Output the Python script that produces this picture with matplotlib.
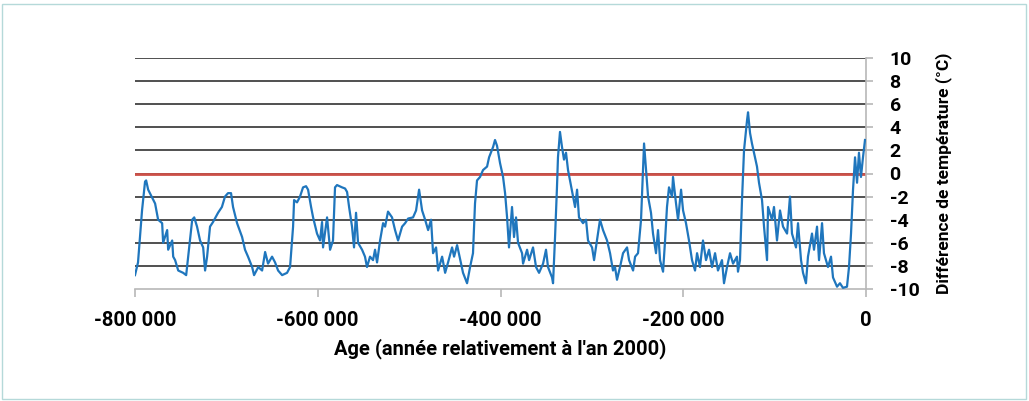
import numpy as np
import matplotlib
matplotlib.use("Agg")
import matplotlib.pyplot as plt
from matplotlib.ticker import FuncFormatter, MultipleLocator
from matplotlib.patches import Rectangle

# age en milliers d'années (relatif à 2000), température en °C
age_ka = [
	-800, -796.7, -792.3, -789, -787.8, -785.6, -781.2, -778, -774.7, -770.3,
	-769.2, -764.8, -763.7, -759.3, -758.2, -756.1, -752.7, -747.3, -744, -741.8,
	-737.4, -735.2, -732.1, -728.8, -725.4, -723.3, -721.1, -717.9, -714.6, -709.1,
	-704.9, -701.5, -698.2, -694.9, -692.7, -688.3, -682.8, -679.6, -676.3, -671.8,
	-669.7, -665.1, -660.9, -657.6, -654.4, -650, -646.7, -643.4, -639, -633.6,
	-630.3, -627, -625.9, -622.7, -619.4, -616.1, -612.8, -610.6, -607.3, -605.1,
	-600.8, -597.5, -595.3, -594.2, -589.8, -586.5, -583.3, -581.1, -578.9, -573.4,
	-570.1, -567.9, -565.7, -562.5, -560.3, -558.1, -555.9, -551.5, -548.3, -546.1,
	-542.8, -539.5, -537.3, -535.1, -531.8, -528.5, -526.3, -523.1, -518.7, -515.4,
	-512.1, -507.7, -504.4, -501.1, -495.7, -492.4, -489.1, -485.8, -482.5, -479.2,
	-476, -473.8, -470.5, -468.3, -463.9, -460.6, -457.4, -453, -450.8, -447.5,
	-443.2, -441, -436.6, -433.3, -430.1, -427.9, -425.7, -422.4, -419.1, -414.7,
	-412.5, -408.1, -406, -403.8, -400.5, -397.2, -395, -392.8, -390.7, -387.4,
	-385.2, -383, -380.8, -376.4, -375.3, -370.9, -368.7, -364.4, -361.1, -357.8,
	-353.4, -350.2, -348, -343.6, -342.5, -340.3, -338.2, -337.1, -334.9, -332.7,
	-330.5, -328.3, -326.1, -323.9, -320.6, -318.4, -316.2, -314.1, -309.7, -306.4,
	-304.2, -299.8, -297.6, -294.4, -291.1, -287.8, -283.4, -280.1, -276.9, -274.7,
	-272.5, -269.2, -265.9, -261.5, -259.3, -254.9, -252.7, -249.5, -246.2, -244,
	-242.9, -240.7, -238.5, -235.3, -233.1, -229.8, -227.6, -225.4, -222.1, -219.9,
	-217.8, -215.6, -212.3, -211.2, -207.9, -205.7, -202.4, -200.2, -197, -193.7,
	-190.4, -187.1, -184.9, -181.7, -178.4, -175.1, -171.8, -168.5, -165.2, -162,
	-157.6, -155.4, -152.1, -148.8, -145.5, -141.2, -140.1, -137.9, -135.7, -133.5,
	-130.2, -129.1, -126.9, -124.8, -122.6, -119.3, -117.1, -113.8, -111.6, -108.3,
	-107.2, -102.9, -100.7, -97.4, -94.1, -90.8, -86.4, -83.2, -81, -76.6,
	-74.4, -71.1, -68.9, -65.7, -63.5, -59.1, -56.9, -53.6, -51.4, -48.1,
	-46, -41.6, -38.3, -36.1, -31.7, -28.5, -25.2, -20.8, -18.6, -16.4,
	-14.2, -12, -9.8, -7.7, -5.5, -3.3, -1.1,
]
temp = [
	-8.8, -7.7, -3.2, -0.7, -0.6, -1.4, -2.1, -2.6, -4.0, -4.3,
	-6.0, -4.9, -6.6, -5.8, -7.2, -7.5, -8.4, -8.6, -8.8, -7.2,
	-4.0, -3.8, -4.6, -5.8, -6.4, -8.4, -7.2, -4.6, -4.2, -3.4,
	-2.9, -2.0, -1.7, -1.7, -2.9, -4.3, -5.5, -6.6, -7.2, -8.1,
	-8.8, -8.1, -8.4, -6.8, -7.8, -7.2, -7.7, -8.4, -8.8, -8.6,
	-8.1, -4.6, -2.3, -2.5, -2.0, -1.2, -1.1, -1.4, -2.9, -3.8,
	-5.2, -5.8, -4.2, -6.4, -3.8, -6.6, -5.8, -1.2, -1.0, -1.2,
	-1.3, -1.6, -2.9, -4.6, -6.4, -3.4, -6.0, -6.6, -7.2, -8.1,
	-7.2, -7.5, -6.6, -7.7, -5.8, -4.3, -4.6, -3.3, -3.8, -4.9,
	-5.8, -4.6, -4.3, -3.9, -3.8, -3.2, -1.4, -3.2, -4.0, -4.9,
	-4.0, -6.9, -6.4, -8.4, -7.2, -8.6, -7.7, -6.4, -7.2, -6.2,
	-7.8, -8.6, -9.5, -8.1, -6.9, -2.6, -0.6, -0.3, 0.3, 0.6,
	1.4, 2.3, 2.9, 2.4, 0.9, -0.3, -1.7, -3.8, -6.4, -2.9,
	-5.5, -3.8, -6.0, -6.9, -7.8, -6.6, -7.5, -6.4, -8.1, -8.6,
	-7.8, -6.6, -8.1, -9.0, -9.5, -5.5, -1.2, 1.4, 3.6, 2.3,
	1.2, 1.8, 0.3, -0.6, -2.0, -2.9, -1.4, -3.8, -4.3, -4.0,
	-5.8, -6.4, -7.5, -5.8, -4.0, -4.9, -5.8, -6.9, -8.4, -8.1,
	-9.2, -8.1, -6.9, -6.4, -7.5, -8.4, -7.2, -6.9, -4.0, 0.3,
	2.6, 0.3, -2.0, -3.4, -5.2, -6.9, -4.9, -7.5, -8.5, -5.8,
	-2.9, -1.2, -2.0, -0.3, -2.6, -4.0, -1.4, -3.2, -4.3, -5.8,
	-7.5, -8.4, -6.9, -8.1, -5.8, -7.5, -6.6, -8.1, -6.9, -8.4,
	-7.5, -9.5, -8.1, -6.9, -7.8, -7.2, -8.5, -7.5, -2.3, 2.0,
	4.6, 5.3, 3.5, 2.6, 1.8, 0.6, -0.8, -2.3, -4.6, -7.5,
	-2.9, -4.0, -2.9, -5.8, -3.2, -4.6, -5.2, -2.0, -5.2, -6.4,
	-4.3, -7.5, -8.6, -9.5, -7.2, -5.2, -6.6, -4.6, -7.5, -4.3,
	-6.9, -8.1, -7.2, -9.0, -9.8, -9.5, -9.9, -9.8, -8.1, -5.2,
	-1.4, 1.4, -0.8, 1.8, -0.3, 1.4, 2.9,
]

age = np.array(age_ka) * 1000

def fmt_milliers(v, pos):
	s = f"{int(round(v)):,}".replace(",", " ")
	return s

plt.rcParams['font.family'] = ['Roboto', 'DejaVu Sans']
plt.rcParams['font.weight'] = 'bold'
plt.rcParams['axes.unicode_minus'] = False

fig = plt.figure(figsize=(10.29, 4.01), dpi=100)
ax = fig.add_axes([135/1029, 1-289/401, (866-135)/1029, (289-58)/401])

for yv in range(-8, 11, 2):
	ax.axhline(yv, color='#505050', lw=1.4, zorder=1)
ax.axhline(0, color='#cc5048', lw=2.0, zorder=2)
ax.plot(age, temp, color='#1f76bd', lw=1.6, zorder=3)

ax.set_xlim(-800000, 0)
ax.set_ylim(-10, 10)
ax.xaxis.set_major_locator(MultipleLocator(200000))
ax.xaxis.set_major_formatter(FuncFormatter(fmt_milliers))
ax.yaxis.set_major_locator(MultipleLocator(2))
ax.yaxis.tick_right()
ax.yaxis.set_label_position('right')

for side in ['top', 'left']:
	ax.spines[side].set_visible(False)
for side in ['bottom', 'right']:
	ax.spines[side].set_color('#b8b8b8')
	ax.spines[side].set_linewidth(1.2)
ax.tick_params(axis='x', length=6, color='#b8b8b8', width=1.2, pad=10, labelsize=14.5)
ax.tick_params(axis='y', length=5, color='#b8b8b8', width=1.2, pad=12, labelsize=14)

ax.set_xlabel("Age (année relativement à l'an 2000)", fontsize=14.5, fontweight='bold', labelpad=6)
ax.set_ylabel("Différence de température (°C)", fontsize=12.5, fontweight='bold', labelpad=11)

fig.patches.append(Rectangle((2/1029, 2/401), 1024/1029, 395/401, transform=fig.transFigure,
	fill=False, edgecolor='#b5d9d9', lw=1))

fig.savefig("out.png", dpi=100)
